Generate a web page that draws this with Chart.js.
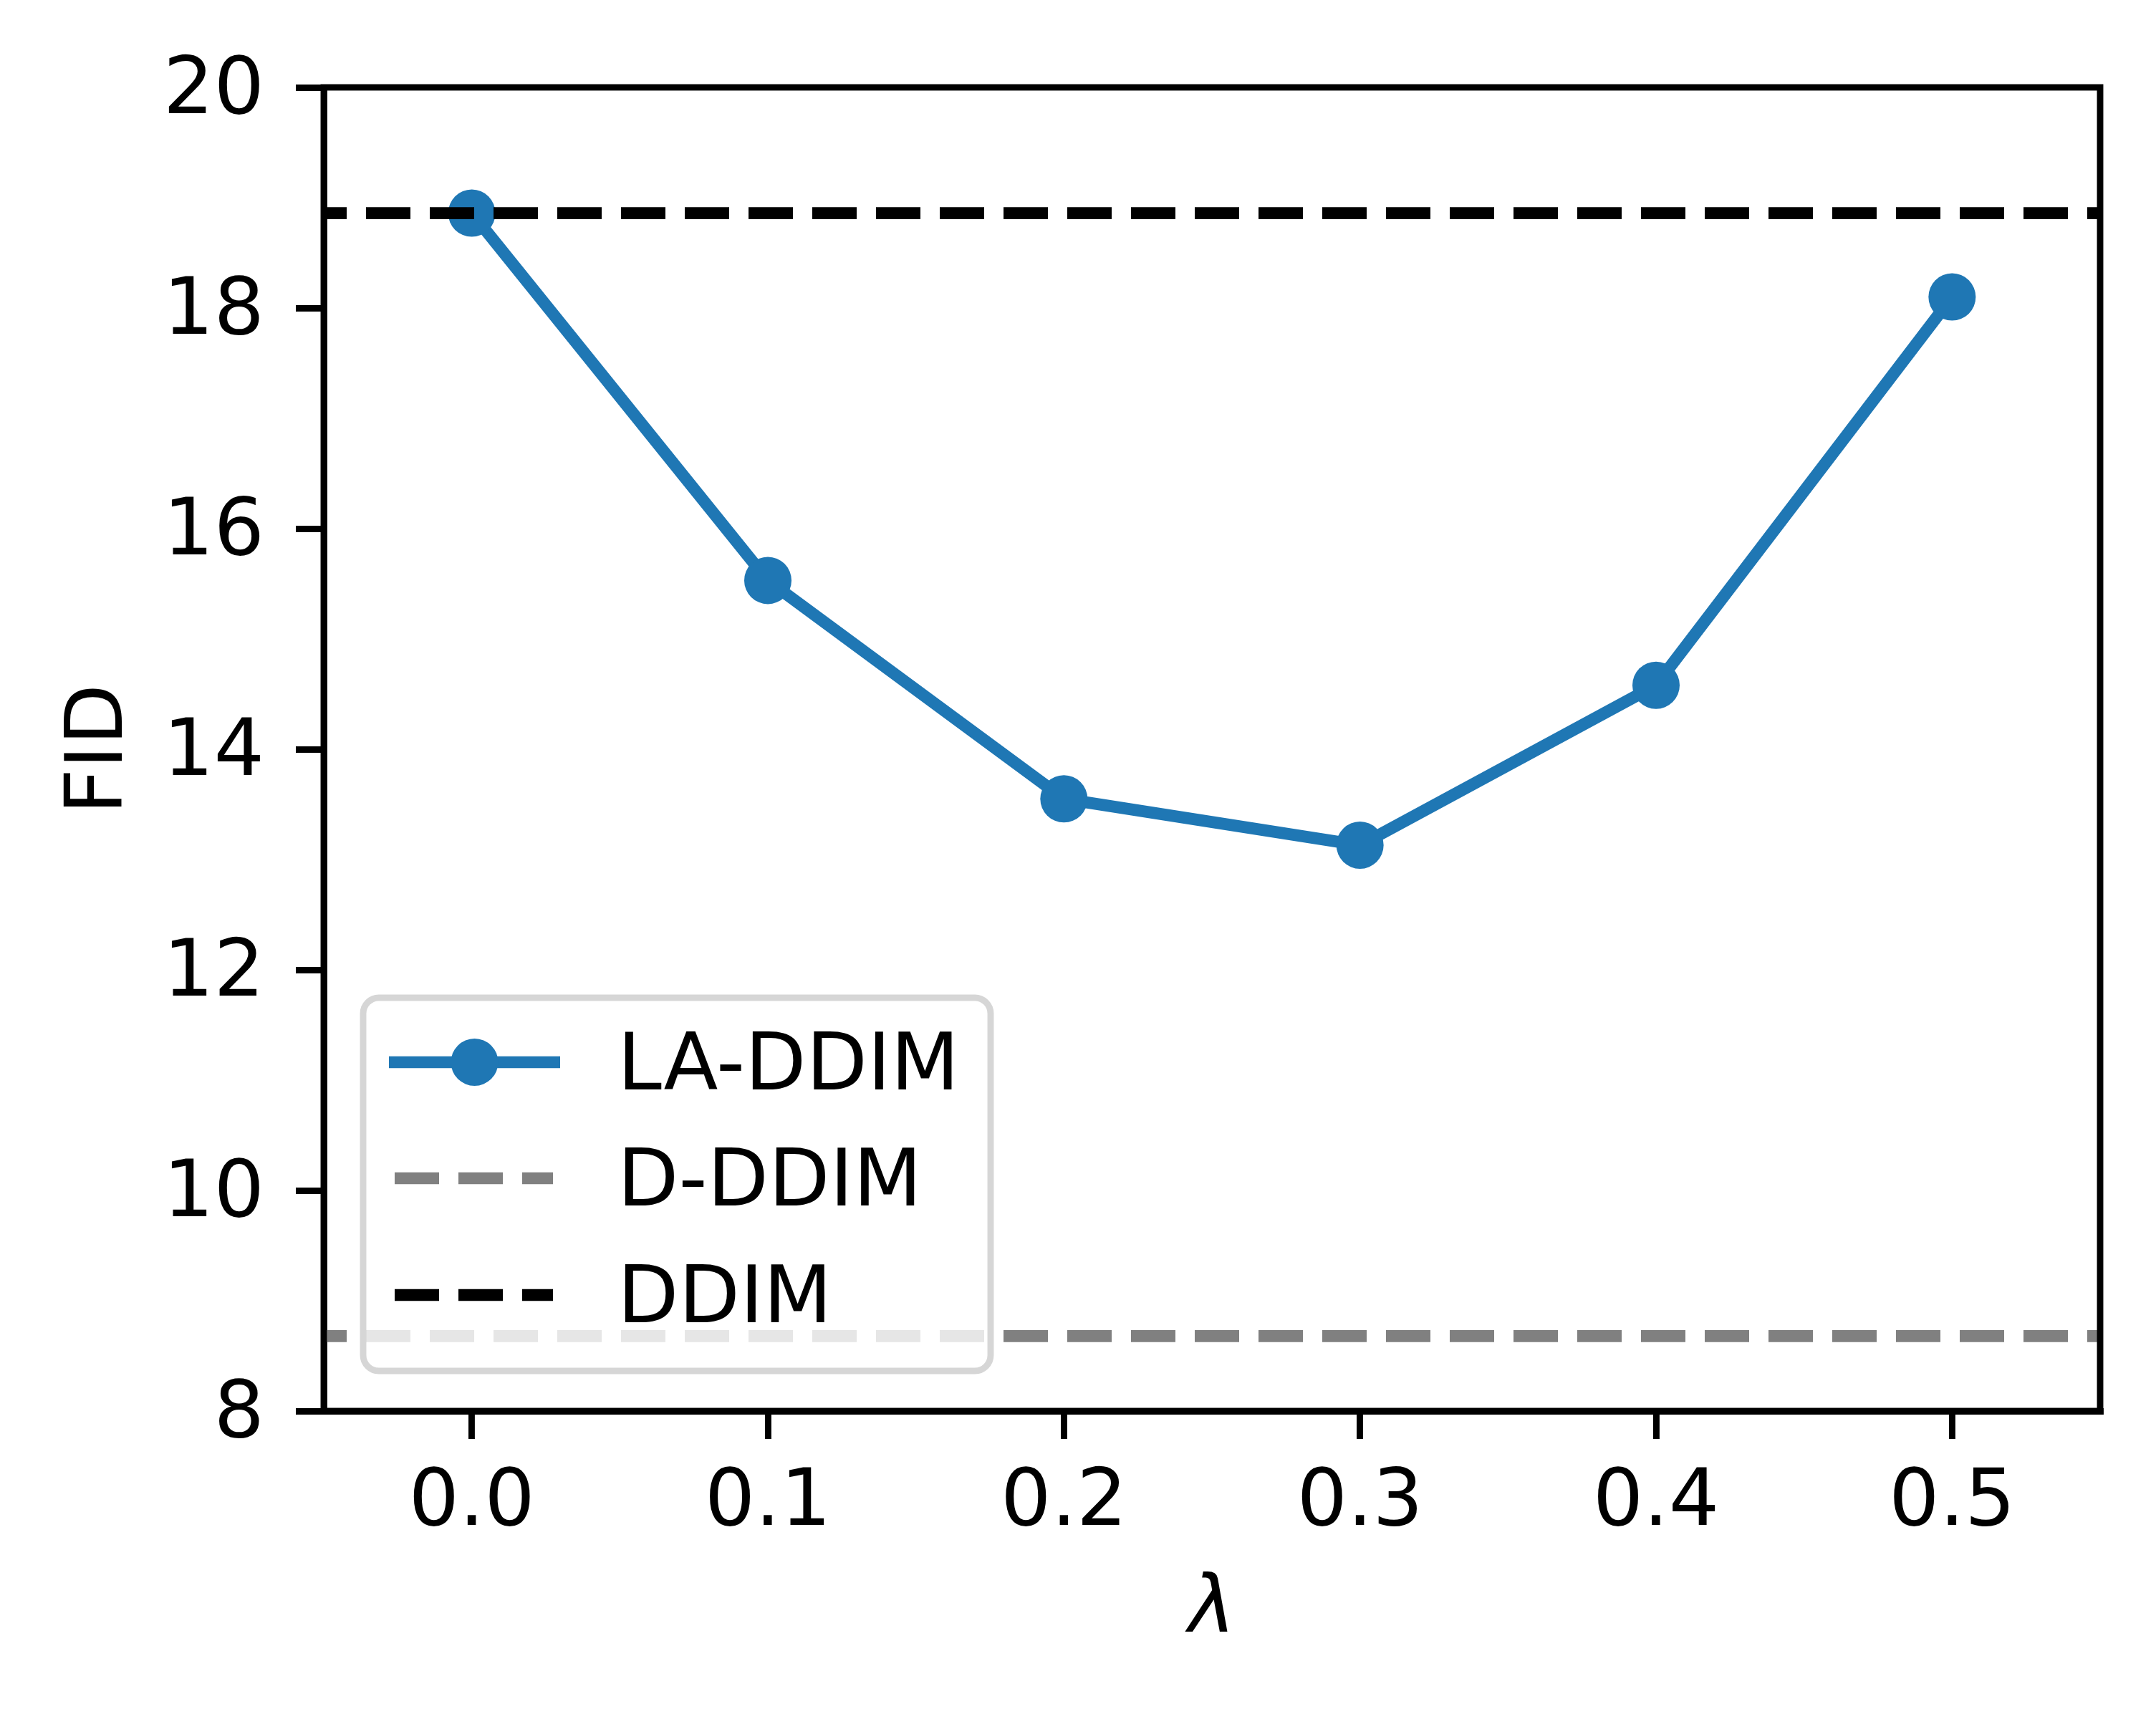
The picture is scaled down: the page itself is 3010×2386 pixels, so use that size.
<!DOCTYPE html>
<html><head><meta charset="utf-8">
<script src="https://cdn.jsdelivr.net/npm/chart.js@4.4.0/dist/chart.umd.min.js"></script>
<style>html,body{margin:0;padding:0;background:#fff;} canvas{display:block;}</style>
</head><body>
<canvas id="c" width="3010" height="2386"></canvas>
<script>
// ---- data ----
const lambdas = [0.0, 0.1, 0.2, 0.3, 0.4, 0.5];
const laDdimFID = [18.86, 15.53, 13.55, 13.13, 14.58, 18.10];
const dDdimFID = 8.68;
const ddimFID = 18.86;
const xRange = [-0.05, 0.55];
const yRange = [8, 20];
const xTicks = [0.0, 0.1, 0.2, 0.3, 0.4, 0.5];
const yTicks = [8, 10, 12, 14, 16, 18, 20];
const seriesNames = ['LA-DDIM', 'D-DDIM', 'DDIM'];
const xLabel = 'λ';
const yLabel = 'FID';

// ---- style ----
const FONT = 'DejaVu Sans';
const FS = 111;
const LW = 16.7;
const SPINE = 8.9;
const BLUE = '#1f77b4';

const framePlugin = {
  id: 'frame',
  afterDatasetsDraw(chart) {
    const {ctx, chartArea: a} = chart;
    ctx.save();
    ctx.strokeStyle = '#000';
    ctx.lineWidth = SPINE;
    ctx.lineJoin = 'miter';
    ctx.strokeRect(a.left, a.top, a.right - a.left, a.bottom - a.top);
    ctx.restore();
  }
};

const legendPlugin = {
  id: 'mplLegend',
  afterDraw(chart) {
    const {ctx, chartArea: a} = chart;
    const w = 876, h = 521;
    const bx = a.left + 55, by = a.bottom - 56 - h;
    ctx.save();
    ctx.beginPath();
    ctx.roundRect(bx, by, w, h, 22);
    ctx.fillStyle = 'rgba(255,255,255,0.8)';
    ctx.fill();
    ctx.strokeStyle = 'rgba(204,204,204,0.8)';
    ctx.lineWidth = SPINE;
    ctx.stroke();
    const rows = [90, 252, 415];
    const dsOrder = [0, 1, 2];
    dsOrder.forEach((di, r) => {
      const ds = chart.data.datasets[di];
      const cy = by + rows[r];
      ctx.strokeStyle = ds.borderColor;
      ctx.lineWidth = ds.borderWidth;
      ctx.lineCap = 'butt';
      ctx.beginPath();
      if (ds.borderDash && ds.borderDash.length) {
        ctx.setLineDash(ds.borderDash);
        ctx.lineDashOffset = 0;
        ctx.moveTo(bx + 44, cy);
        ctx.lineTo(bx + 265, cy);
      } else {
        ctx.setLineDash([]);
        ctx.moveTo(bx + 36, cy);
        ctx.lineTo(bx + 275, cy);
      }
      ctx.stroke();
      ctx.setLineDash([]);
      if (ds.pointRadius > 0) {
        ctx.beginPath();
        ctx.arc(bx + 155.5, cy, ds.pointRadius, 0, Math.PI * 2);
        ctx.fillStyle = ds.pointBackgroundColor;
        ctx.fill();
      }
      ctx.fillStyle = '#000';
      ctx.font = FS + 'px "' + FONT + '"';
      ctx.textBaseline = 'alphabetic';
      ctx.textAlign = 'left';
      ctx.fillText(ds.label, bx + 355, cy + 38);
    });
    ctx.restore();
  }
};

const tickFont = {family: FONT, size: FS, lineHeight: 1};

new Chart(document.getElementById('c'), {
  type: 'line',
  data: {
    datasets: [
      {
        label: seriesNames[0],
        data: lambdas.map((x, i) => ({x, y: laDdimFID[i]})),
        borderColor: BLUE, borderWidth: LW,
        pointRadius: 33, pointBackgroundColor: BLUE, pointBorderWidth: 0,
        pointHoverRadius: 33,
        tension: 0, order: 3
      },
      {
        label: seriesNames[1],
        data: xRange.map(x => ({x, y: dDdimFID})),
        borderColor: '#808080', borderWidth: LW,
        borderDash: [62, 27], borderDashOffset: 30,
        pointRadius: 0, pointHoverRadius: 0, order: 2
      },
      {
        label: seriesNames[2],
        data: xRange.map(x => ({x, y: ddimFID})),
        borderColor: '#000000', borderWidth: LW,
        borderDash: [62, 27], borderDashOffset: 30,
        pointRadius: 0, pointHoverRadius: 0, order: 1
      }
    ]
  },
  options: {
    responsive: false,
    devicePixelRatio: 1,
    animation: false,
    events: [],
    layout: {padding: {left: 0, top: 122, right: 78, bottom: 0}},
    plugins: {legend: {display: false}, tooltip: {enabled: false}},
    scales: {
      x: {
        type: 'linear', min: xRange[0], max: xRange[1],
        afterBuildTicks: s => { s.ticks = xTicks.map(v => ({value: v})); },
        afterFit: s => { s.height = 416; },
        ticks: {
          callback: v => Number(v).toFixed(1),
          font: tickFont, color: '#000', padding: 35.5,
          maxRotation: 0, minRotation: 0, autoSkip: false
        },
        grid: {drawOnChartArea: false, drawTicks: true, tickLength: 39, tickWidth: SPINE, tickColor: '#000', lineWidth: SPINE, color: '#000'},
        border: {display: true, color: '#000', width: SPINE},
        title: {display: true, text: xLabel, color: '#000',
          font: {family: FONT, size: FS, style: 'italic', lineHeight: 1},
          padding: {top: 0, bottom: 81.5}}
      },
      y: {
        type: 'linear', min: yRange[0], max: yRange[1],
        afterBuildTicks: s => { s.ticks = yTicks.map(v => ({value: v})); },
        afterFit: s => { s.width = 452; },
        ticks: {
          callback: v => String(v),
          font: tickFont, color: '#000', padding: 44, autoSkip: false,
          labelOffset: 7
        },
        grid: {drawOnChartArea: false, drawTicks: true, tickLength: 39, tickWidth: SPINE, tickColor: '#000', lineWidth: SPINE, color: '#000'},
        border: {display: true, color: '#000', width: SPINE},
        title: {display: true, text: yLabel, color: '#000',
          font: {family: FONT, size: FS, lineHeight: 1},
          padding: {top: 85.5, bottom: 0}}
      }
    }
  },
  plugins: [framePlugin, legendPlugin]
});
</script>
</body></html>
